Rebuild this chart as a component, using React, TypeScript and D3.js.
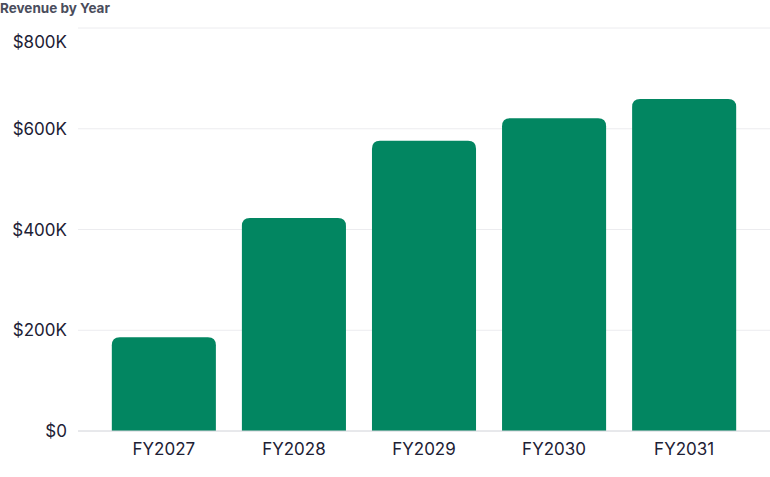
import React from "react";
import * as d3 from "d3";

const categories: string[] = ["FY2027", "FY2028", "FY2029", "FY2030", "FY2031"];
const revenue: number[] = [186000, 423000, 576000, 621000, 659000];
const yTicks: number[] = [0, 200000, 400000, 600000, 800000];
const title = "Revenue by Year";

const W = 770;
const H = 477;
const FONT = "Inter, Lato, sans-serif";

function topRoundedBar(x: number, y: number, w: number, h: number, r: number) {
  const rr = Math.min(r, w / 2, h);
  return `M${x},${y + h} L${x},${y + rr} Q${x},${y} ${x + rr},${y} L${x + w - rr},${y} Q${x + w},${y} ${x + w},${y + rr} L${x + w},${y + h} Z`;
}

export default function App() {
  const x = d3.scaleBand<string>().domain(categories).range([78, 770]).paddingInner(0.2).paddingOuter(0.26);
  const y = d3.scaleLinear().domain([0, 800000]).range([431, 28]);
  const fmt = (v: number) => (v === 0 ? "$0" : `$${d3.format(",")(v / 1000)}K`);
  return (
    <svg width={W} height={H} style={{ position: "absolute", left: 0, top: 0, background: "#fff" }}>
      <text x={0} y={13} fontFamily={FONT} fontWeight={700} fontSize={13.5} fill="#4a4d5c">
        {title}
      </text>
      {yTicks.map((t, i) => (
        <g key={t}>
          {t !== 0 && (
            <line x1={78} x2={770} y1={y(t)} y2={y(t)} stroke="#ececef" strokeWidth={1} />
          )}
          <text
            x={67}
            y={i === yTicks.length - 1 ? y(t) + 14 : y(t)}
            dy="0.36em"
            textAnchor="end"
            fontFamily={FONT}
            fontSize={17}
            fill="#1d2135"
          >
            {fmt(t)}
          </text>
        </g>
      ))}
      {categories.map((c, i) => {
        const bx = x(c)!;
        const by = y(revenue[i]);
        return (
          <path key={c} d={topRoundedBar(bx, by, x.bandwidth(), y(0) - by, 8)} fill="#028661" />
        );
      })}
      <line x1={78} x2={770} y1={y(0)} y2={y(0)} stroke="#d0d2d8" strokeWidth={1} />
      {categories.map((c) => (
        <text
          key={c}
          x={x(c)! + x.bandwidth() / 2}
          y={454.5}
          textAnchor="middle"
          fontFamily={FONT}
          fontSize={17}
          fill="#1d2135"
        >
          {c}
        </text>
      ))}
    </svg>
  );
}
